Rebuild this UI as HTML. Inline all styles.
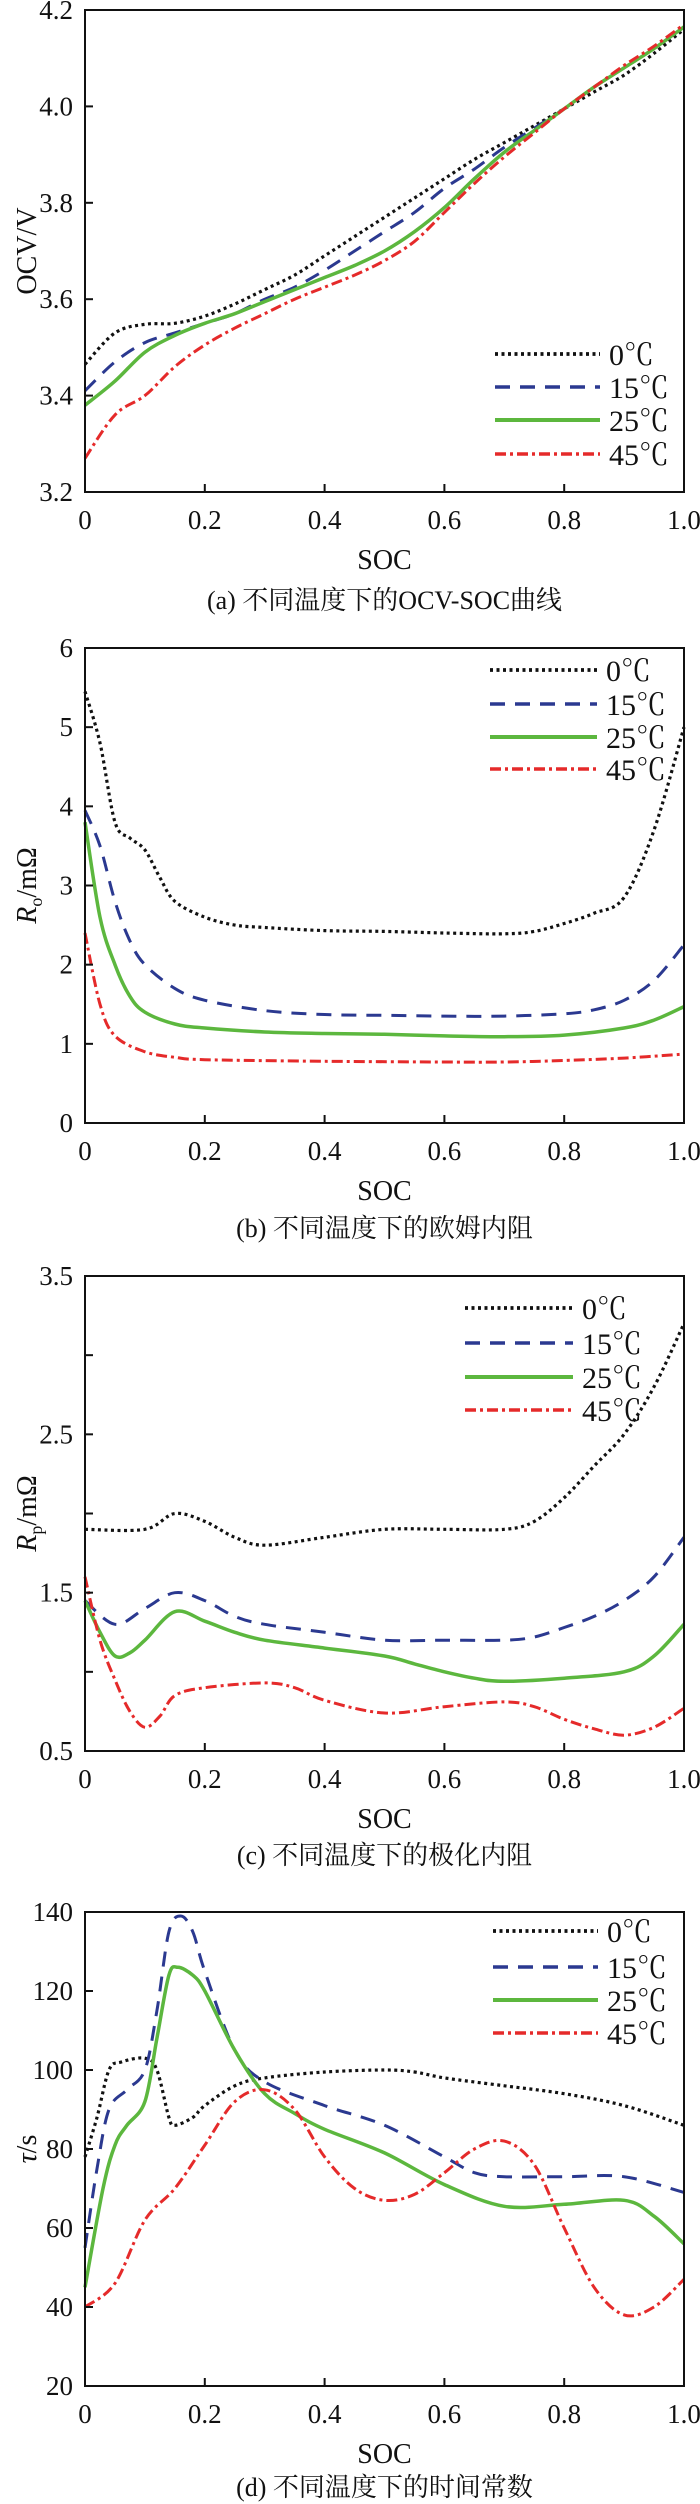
<!DOCTYPE html>
<html><head><meta charset="utf-8">
<style>
html,body{margin:0;padding:0;background:#fff;}
svg{display:block;}
text{font-family:"Liberation Serif","Noto Serif CJK SC",serif;fill:#111;}
</style></head>
<body>
<svg id="chart" width="700" height="2504" viewBox="0 0 700 2504" xmlns="http://www.w3.org/2000/svg"></svg>
<script>
// ---- data ----
const tempLabels = ["0℃","15℃","25℃","45℃"];
const xTickLabels = ["0","0.2","0.4","0.6","0.8","1.0"];

const ocvX = [0,.05,.1,.15,.2,.25,.3,.35,.4,.45,.5,.55,.6,.65,.7,.75,.8,.85,.9,.95,1];
const ocv0  = [3.465,3.53,3.548,3.55,3.565,3.59,3.62,3.65,3.69,3.73,3.77,3.81,3.85,3.89,3.925,3.96,3.995,4.03,4.065,4.11,4.16];
const ocv15 = [3.41,3.47,3.51,3.53,3.55,3.57,3.6,3.625,3.66,3.7,3.74,3.78,3.83,3.87,3.915,3.955,3.995,4.04,4.08,4.12,4.165];
const ocv25 = [3.38,3.43,3.49,3.525,3.55,3.57,3.595,3.62,3.645,3.67,3.70,3.74,3.79,3.85,3.905,3.95,3.995,4.04,4.08,4.12,4.165];
const ocv45 = [3.27,3.36,3.40,3.46,3.505,3.54,3.57,3.6,3.625,3.65,3.68,3.72,3.78,3.84,3.895,3.945,3.995,4.04,4.085,4.125,4.17];
const ocvTicks = ["3.2","3.4","3.6","3.8","4.0","4.2"];

const ro0X = [0,.025,.05,.075,.1,.125,.15,.2,.25,.3,.4,.5,.6,.7,.75,.8,.85,.9,.95,1];
const ro0  = [5.45,4.8,3.8,3.6,3.45,3.1,2.8,2.6,2.5,2.47,2.43,2.42,2.4,2.39,2.42,2.52,2.65,2.85,3.7,5.0];
const ro15X = [0,.025,.05,.075,.1,.15,.2,.3,.4,.5,.6,.7,.8,.85,.9,.95,1];
const ro15 = [3.95,3.5,2.8,2.3,2.0,1.7,1.55,1.42,1.37,1.36,1.35,1.35,1.38,1.43,1.55,1.8,2.25];
const ro25X = [0,.025,.05,.075,.1,.15,.2,.3,.4,.5,.6,.7,.8,.9,.95,1];
const ro25 = [3.8,2.6,2.0,1.6,1.4,1.25,1.2,1.15,1.13,1.12,1.1,1.09,1.11,1.2,1.3,1.47];
const ro45X = [0,.025,.05,.1,.15,.2,.4,.6,.7,.8,.9,1];
const ro45 = [2.4,1.5,1.1,0.9,0.83,0.8,0.78,0.77,0.77,0.79,0.82,0.87];
const roTicks = ["0","1","2","3","4","5","6"];

const rp0X = [0,.1,.15,.2,.25,.3,.4,.5,.6,.7,.75,.8,.85,.9,.95,1];
const rp0  = [1.9,1.9,2.0,1.95,1.85,1.8,1.85,1.9,1.9,1.9,1.95,2.1,2.3,2.5,2.8,3.2];
const rp15X = [0,.05,.1,.15,.2,.25,.3,.4,.5,.6,.7,.75,.8,.85,.9,.95,1];
const rp15 = [1.45,1.3,1.4,1.5,1.45,1.35,1.3,1.25,1.2,1.2,1.2,1.22,1.28,1.35,1.45,1.6,1.85];
const rp25X = [0,.025,.05,.075,.1,.15,.2,.25,.3,.4,.5,.55,.6,.65,.7,.8,.9,.95,1];
const rp25 = [1.45,1.25,1.1,1.12,1.2,1.38,1.32,1.25,1.2,1.15,1.1,1.05,1.0,0.96,0.94,0.96,1.0,1.1,1.3];
const rp45X = [0,.025,.05,.075,.1,.125,.15,.2,.3,.35,.4,.5,.6,.7,.75,.8,.85,.9,.95,1];
const rp45 = [1.6,1.2,0.95,0.75,0.65,0.72,0.85,0.9,0.93,0.9,0.82,0.74,0.78,0.81,0.78,0.7,0.64,0.6,0.65,0.77];
const rpTicks = ["0.5","","1.5","","2.5","","3.5"];

const tau0X = [0,.02,.04,.06,.1,.12,.14,.15,.18,.2,.25,.3,.4,.5,.55,.6,.7,.8,.9,1];
const tau0  = [78,88,100,102,103,100,88,86,88,91,96,98,99.5,100,99.5,98,96,94,91,86];
const tau15X = [0,.02,.04,.07,.1,.12,.14,.16,.18,.2,.25,.3,.4,.5,.6,.65,.7,.8,.9,1];
const tau15 = [55,75,90,95,100,115,135,139,135,125,105,97,91,86,78,74,73,73,73,69];
const tau25X = [0,.03,.05,.07,.1,.12,.14,.155,.18,.2,.25,.3,.35,.4,.5,.6,.7,.8,.9,.95,1];
const tau25 = [45,70,81,86,92,108,124,126,124,120,105,94,89,85,79,71,65.5,66,67,63,56];
const tau45X = [0,.05,.1,.15,.2,.25,.3,.35,.4,.45,.5,.55,.6,.65,.7,.75,.8,.85,.9,.95,1];
const tau45 = [40,46,62,70,81,92,95,90,78,70,67,68.5,74,80,82,76,60,45,38,40,47];
const tauTicks = ["20","40","60","80","100","120","140"];

// ---- drawing ----
const NS = "http://www.w3.org/2000/svg";
const svg = document.getElementById("chart");
const L = 85, R = 684;
const styles = [
  {stroke:"#111", w:3.2, dash:"3 3.5"},
  {stroke:"#2b3990", w:3, dash:"15 10"},
  {stroke:"#5cb73e", w:3.5, dash:""},
  {stroke:"#e52a2a", w:3, dash:"11 4 3 4"}
];
function mk(tag, attrs, parent){
  const e = document.createElementNS(NS, tag);
  for (const k in attrs) e.setAttribute(k, attrs[k]);
  (parent||svg).appendChild(e);
  return e;
}
function smoothPath(pts){
  let d = "M"+pts[0][0].toFixed(1)+","+pts[0][1].toFixed(1);
  for (let i=0;i<pts.length-1;i++){
    const p0=pts[Math.max(0,i-1)], p1=pts[i], p2=pts[i+1], p3=pts[Math.min(pts.length-1,i+2)];
    const c1=[p1[0]+(p2[0]-p0[0])/6, p1[1]+(p2[1]-p0[1])/6];
    const c2=[p2[0]-(p3[0]-p1[0])/6, p2[1]-(p3[1]-p1[1])/6];
    d += " C"+c1[0].toFixed(1)+","+c1[1].toFixed(1)+" "+c2[0].toFixed(1)+","+c2[1].toFixed(1)+" "+p2[0].toFixed(1)+","+p2[1].toFixed(1);
  }
  return d;
}
function panel(cfg){
  const g = mk("g", {});
  
  
  const T = cfg.top, B = cfg.bottom;
  const xs = v => L + v*(R-L);
  const ys = v => B - (v-cfg.ymin)/(cfg.ymax-cfg.ymin)*(B-T);
  // series
  cfg.series.forEach((s,i)=>{
    const pts = s.x.map((xv,j)=>[xs(xv), ys(s.y[j])]);
    const st = styles[i];
    const p = mk("path", {d:smoothPath(pts), fill:"none", stroke:st.stroke, "stroke-width":st.w, "stroke-dasharray":st.dash, "stroke-linejoin":"round"}, g);
    
    
  });
  // frame
  const fr = mk("rect", {x:L, y:T, width:R-L, height:B-T, fill:"none", stroke:"#111", "stroke-width":2}, g);
  
  
  // x ticks
  xTickLabels.forEach((lab,i)=>{
    const x = xs(i*0.2);
    if (i>0 && i<5) mk("line", {x1:x, x2:x, y1:B, y2:B-8, stroke:"#111", "stroke-width":2}, g);
    const t = mk("text", {x:x, y:B+37, "font-size":27, "text-anchor":"middle"}, g);
    t.textContent = lab;
    
    
  });
  // y ticks
  const n = cfg.yticks.length;
  cfg.yticks.forEach((lab,i)=>{
    const v = cfg.ymin + i*(cfg.ymax-cfg.ymin)/(n-1);
    const y = ys(v);
    if (i>0 && i<n-1) mk("line", {x1:L, x2:L+8, y1:y, y2:y, stroke:"#111", "stroke-width":2}, g);
    if (lab){
      const t = mk("text", {x:L-12, y:y+9, "font-size":27, "text-anchor":"end"}, g);
      t.textContent = lab;
      
      
    }
  });
  // y title
  const yt = mk("text", {x:0, y:0, "font-size":28, "text-anchor":"middle", transform:"translate(36,"+((T+B)/2)+") rotate(-90)"}, g);
  yt.innerHTML = cfg.ytitle;
  
  
  // x title
  const xt = mk("text", {x:(L+R)/2, y:B+77, "font-size":28, "text-anchor":"middle"}, g);
  xt.textContent = "SOC";
  
  
  // caption
  const cap = mk("text", {x:(L+R)/2, y:cfg.capY, "font-size":26, "text-anchor":"middle"}, g);
  cap.textContent = cfg.caption;
  
  
  // legend
  cfg.legRows.forEach((ry,i)=>{
    const st = styles[i];
    const ln = mk("line", {x1:cfg.legX1, x2:cfg.legX2, y1:ry, y2:ry, stroke:st.stroke, "stroke-width":st.w+0.5, "stroke-dasharray":st.dash}, g);
    
    
    const t = mk("text", {x:cfg.legX2+9, y:ry+11, "font-size":30}, g);
    t.textContent = tempLabels[i];
    
    
  });
}

panel({name:"ocv-soc-panel", top:10, bottom:492, ymin:3.2, ymax:4.2, yticks:ocvTicks,
  ytitle:"OCV/V", caption:"(a) 不同温度下的OCV-SOC曲线", capY:609,
  legX1:495, legX2:600, legRows:[354,387,420,454],
  series:[{x:ocvX,y:ocv0},{x:ocvX,y:ocv15},{x:ocvX,y:ocv25},{x:ocvX,y:ocv45}]});

panel({name:"ohmic-resistance-panel", top:648, bottom:1123, ymin:0, ymax:6, yticks:roTicks,
  ytitle:'<tspan font-style="italic">R</tspan><tspan font-size="18" dy="6">o</tspan><tspan dy="-6">/mΩ</tspan>',
  caption:"(b) 不同温度下的欧姆内阻", capY:1237,
  legX1:490, legX2:597, legRows:[670,704,737,769],
  series:[{x:ro0X,y:ro0},{x:ro15X,y:ro15},{x:ro25X,y:ro25},{x:ro45X,y:ro45}]});

panel({name:"polarization-resistance-panel", top:1276, bottom:1751, ymin:0.5, ymax:3.5, yticks:rpTicks,
  ytitle:'<tspan font-style="italic">R</tspan><tspan font-size="18" dy="6">p</tspan><tspan dy="-6">/mΩ</tspan>',
  caption:"(c) 不同温度下的极化内阻", capY:1864,
  legX1:465, legX2:573, legRows:[1308,1343,1377,1410],
  series:[{x:rp0X,y:rp0},{x:rp15X,y:rp15},{x:rp25X,y:rp25},{x:rp45X,y:rp45}]});

panel({name:"time-constant-panel", top:1912, bottom:2386, ymin:20, ymax:140, yticks:tauTicks,
  ytitle:'<tspan font-style="italic">τ</tspan>/s',
  caption:"(d) 不同温度下的时间常数", capY:2496,
  legX1:493, legX2:598, legRows:[1931,1967,2000,2033],
  series:[{x:tau0X,y:tau0},{x:tau15X,y:tau15},{x:tau25X,y:tau25},{x:tau45X,y:tau45}]});
</script>
</body></html>
